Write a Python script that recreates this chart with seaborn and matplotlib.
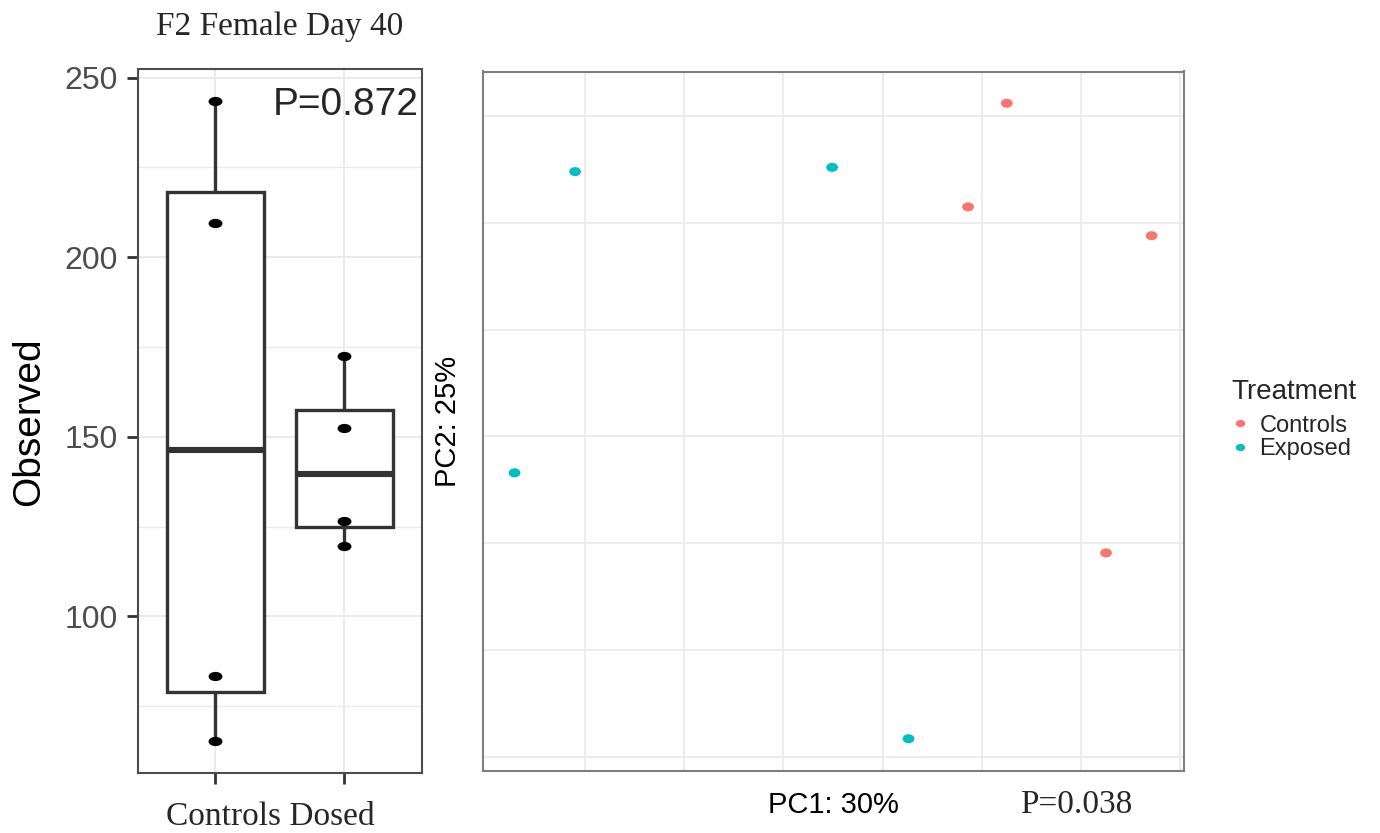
import numpy as np
import pandas as pd
import matplotlib
matplotlib.use("Agg")
import matplotlib.pyplot as plt
from matplotlib.path import Path
from matplotlib.transforms import Affine2D
import seaborn as sns

# ---- data ---------------------------------------------------------------
groups = ["Controls", "Dosed"]
observed_controls = [243.6, 209.6, 83.3, 65.4]
observed_dosed = [172.6, 152.4, 126.6, 119.7]

treatments = ["Controls", "Exposed"]
pc1_controls = [0.125, 0.086, 0.271, 0.225]
pc2_controls = [0.312, 0.215, 0.188, -0.109]
pc1_exposed = [-0.310, -0.051, -0.371, 0.026]
pc2_exposed = [0.248, 0.252, -0.034, -0.283]

y_ticks = [100, 150, 200, 250]
y_minor = [75, 125, 175, 225]
pc_grid = [-0.3, -0.2, -0.1, 0.0, 0.1, 0.2, 0.3]

title_text = "F2 Female Day 40"
p_alpha = "P=0.872"
p_beta = "P=0.038"
pc1_label = "PC1: 30%"
pc2_label = "PC2: 25%"

alpha_df = pd.DataFrame({
    "Group": [groups[0]] * len(observed_controls) + [groups[1]] * len(observed_dosed),
    "Observed": observed_controls + observed_dosed,
})
pca_df = pd.DataFrame({
    "PC1": pc1_controls + pc1_exposed,
    "PC2": pc2_controls + pc2_exposed,
    "Treatment": [treatments[0]] * len(pc1_controls) + [treatments[1]] * len(pc1_exposed),
})

# ---- style --------------------------------------------------------------
sns.set_theme(style="white")
plt.rcParams["font.family"] = ["Liberation Sans", "DejaVu Sans"]
SERIF = ["Liberation Serif", "DejaVu Serif"]
GRID = "#EBEBEB"
INK = "#333333"

W, H = 1380, 833
fig = plt.figure(figsize=(W / 100, H / 100), dpi=100)


def fx(x):
    return x / W


def fy(y):
    return 1 - y / H


def ellipse(ratio):
    return Affine2D().scale(ratio, 1.0).transform_path(Path.unit_circle())


# ---- left panel: alpha diversity boxplot ---------------------------------
ax1 = fig.add_axes([fx(138), fy(772.7), fx(421.7) - fx(138), (772.7 - 68.5) / H])
ax1.set_axisbelow(True)

sns.boxplot(data=alpha_df, x="Group", y="Observed", order=groups, ax=ax1,
            color="white", linecolor=INK, linewidth=2.4, width=0.75,
            showcaps=False, showfliers=False, whis=np.inf,
            medianprops={"linewidth": 4.4, "color": INK})
sns.stripplot(data=alpha_df, x="Group", y="Observed", order=groups, ax=ax1,
              jitter=False, color="black", size=10, marker=ellipse(1.5),
              linewidth=0, zorder=5)

obs = alpha_df["Observed"]
pad = 0.05 * (obs.max() - obs.min())
ax1.set_ylim(obs.min() - pad, obs.max() + pad)
ax1.set_xlim(-0.6, 1.6)
ax1.set_yticks(y_ticks)
ax1.set_yticks(y_minor, minor=True)
ax1.grid(True, which="major", color=GRID, linewidth=1.4)
ax1.grid(True, which="minor", axis="y", color=GRID, linewidth=1.0)
ax1.tick_params(axis="y", which="major", length=8, width=2, color=INK,
                labelsize=23, labelcolor="#4D4D4D", pad=6.5, left=True)
ax1.tick_params(axis="y", which="minor", length=0)
ax1.tick_params(axis="x", length=8, width=2, color=INK, bottom=True,
                labelbottom=False)
ax1.set_xlabel("")
ax1.set_ylabel("Observed", fontsize=28, color="black")
ax1.yaxis.label.set_verticalalignment("center")
ax1.yaxis.set_label_coords((29.5 - 138) / 283.7, (772.7 - 422) / 704.2)
for sp in ax1.spines.values():
    sp.set_visible(True)
    sp.set_color("#4D4D4D")
    sp.set_linewidth(1.5)

fig.text(fx(280), fy(34.5), title_text, family=SERIF, fontsize=24,
         ha="center", va="baseline")
fig.text(fx(419), fy(115), p_alpha, fontsize=28, ha="right", va="baseline")
fig.text(fx(270), fy(825), "Controls Dosed", family=SERIF, fontsize=24,
         ha="center", va="baseline")

# ---- right panel: ordination -------------------------------------------
ax2 = fig.add_axes([fx(482.7), fy(770.5), fx(1183.5) - fx(482.7), (770.5 - 71.5) / H])
ax2.set_axisbelow(True)
sns.scatterplot(data=pca_df, x="PC1", y="PC2", hue="Treatment",
                hue_order=treatments, palette=["#F8766D", "#00BFC4"],
                marker=ellipse(1.3), s=72, linewidth=0, ax=ax2, zorder=4)

for col, setter in (("PC1", ax2.set_xlim), ("PC2", ax2.set_ylim)):
    v = pca_df[col]
    d = 0.05 * (v.max() - v.min())
    setter(v.min() - d, v.max() + d)
ax2.set_xticks(pc_grid)
ax2.set_yticks(pc_grid)
ax2.grid(True, color=GRID, linewidth=1.3)
ax2.tick_params(length=0, labelbottom=False, labelleft=False)
ax2.set_xlabel(pc1_label, fontsize=21, color="black")
ax2.xaxis.label.set_verticalalignment("center")
ax2.xaxis.set_label_coords(0.5, (770.5 - 805) / 699)
ax2.set_ylabel(pc2_label, fontsize=21, color="black")
ax2.yaxis.label.set_verticalalignment("center")
ax2.yaxis.set_label_coords((448 - 482.7) / 700.8, 0.5)
for sp in ax2.spines.values():
    sp.set_visible(True)
    sp.set_color("#7F7F7F")
    sp.set_linewidth(1.5)

fig.text(fx(1076), fy(813), p_beta, family=SERIF, fontsize=24,
         ha="center", va="baseline")

sns.move_legend(ax2, loc="upper left", bbox_to_anchor=(fx(1231), fy(379)),
                bbox_transform=fig.transFigure, frameon=False,
                title="Treatment", alignment="left", fontsize=17,
                title_fontsize=20, handletextpad=0.4, handlelength=0.8,
                labelspacing=0.07, borderpad=0, borderaxespad=0,
                markerscale=0.8)
# extra room between the legend title and its entries
ax2.get_legend()._legend_box.sep = 7

fig.savefig("out.png", dpi=100)
